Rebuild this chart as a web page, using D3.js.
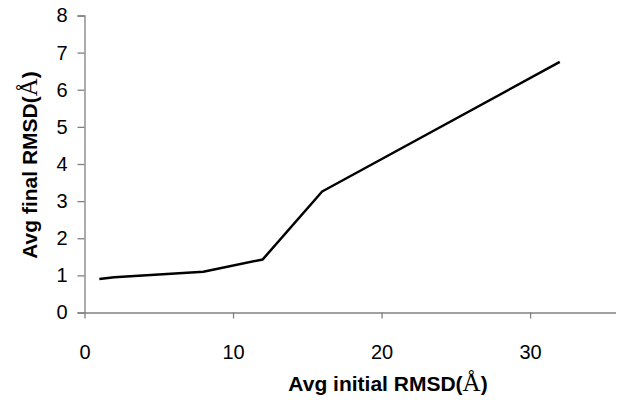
<!DOCTYPE html>
<html>
<head>
<meta charset="utf-8">
<script src="https://cdn.jsdelivr.net/npm/d3@7"></script>
<style>
  body { margin: 0; background: #fff; }
  text { font-family: "Liberation Sans", Arial, sans-serif; }
</style>
</head>
<body>
<div id="chart"></div>
<script>
// Data
var initialRmsd = [1, 2, 8, 12, 16, 32];
var finalRmsd = [0.9, 0.95, 1.1, 1.43, 3.26, 6.75];
var xTicks = [0, 10, 20, 30];
var yTicks = [0, 1, 2, 3, 4, 5, 6, 7, 8];

// SVG setup
var width = 619, height = 400;
var svg = d3.select("#chart").append("svg")
	.attr("width", width).attr("height", height);

var x = d3.scaleLinear().domain([0, 35.75]).range([84.5, 615.5]);
var y = d3.scaleLinear().domain([0, 8]).range([312.5, 15.5]);

// Y axis
var yAxis = svg.append("g").attr("transform", "translate(84.5,0)")
	.call(d3.axisLeft(y).tickValues(yTicks).tickSize(7).tickPadding(10));
yAxis.select(".domain").attr("stroke", "#808080").attr("stroke-width", 1.3);
yAxis.selectAll(".tick line").attr("stroke", "#808080").attr("stroke-width", 1.3);
yAxis.selectAll("text").attr("font-size", "20px").attr("fill", "#000")
	.attr("font-family", "'Liberation Sans', Arial, sans-serif");

// X axis
var xAxis = svg.append("g").attr("transform", "translate(0,312.5)")
	.call(d3.axisBottom(x).tickValues(xTicks).tickSize(6).tickSizeOuter(0).tickPadding(26));
xAxis.select(".domain").attr("stroke", "#808080").attr("stroke-width", 1.3);
xAxis.selectAll(".tick line").attr("stroke", "#808080").attr("stroke-width", 1.3);
xAxis.selectAll("text").attr("font-size", "20px").attr("fill", "#000")
	.attr("font-family", "'Liberation Sans', Arial, sans-serif");

// Line
var pts = initialRmsd.map(function(d, i) { return [d, finalRmsd[i]]; });
svg.append("path").datum(pts)
	.attr("fill", "none")
	.attr("stroke", "#000")
	.attr("stroke-width", 2.5)
	.attr("stroke-linejoin", "round")
	.attr("d", d3.line().x(function(d) { return x(d[0]); }).y(function(d) { return y(d[1]); }));

// Axis titles
var xt = svg.append("text")
	.attr("x", 388).attr("y", 391)
	.attr("text-anchor", "middle")
	.attr("font-size", "21px").attr("font-weight", "bold");
xt.append("tspan").text("Avg initial RMSD(");
xt.append("tspan").attr("font-family", "'Liberation Serif', 'Times New Roman', serif")
	.attr("font-weight", "normal").attr("font-size", "25px").text("Å");
xt.append("tspan").text(")");

var yt = svg.append("text")
	.attr("transform", "translate(37,165) rotate(-90)")
	.attr("text-anchor", "middle")
	.attr("font-size", "21px").attr("font-weight", "bold");
yt.append("tspan").text("Avg final RMSD(");
yt.append("tspan").attr("font-family", "'Liberation Serif', 'Times New Roman', serif")
	.attr("font-weight", "normal").attr("font-size", "25px").text("Å");
yt.append("tspan").text(")");
</script>
</body>
</html>
